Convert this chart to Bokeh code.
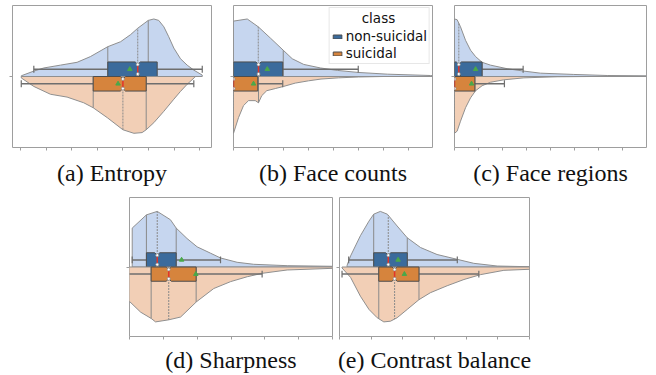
import numpy as np
from bokeh.plotting import figure
from bokeh.models import (FixedTicker, Range1d, Title, Legend, LegendItem,
                          CustomLabelingPolicy)
from bokeh.layouts import row, column
from bokeh.embed import file_html
from bokeh.resources import INLINE

# ---------------- data (x in tick units) ----------------
classes = ["non-suicidal", "suicidal"]
legend_title = "class"
captions = ["(a) Entropy", "(b) Face counts", "(c) Face regions",
            "(d) Sharpness", "(e) Contrast balance"]

# (a) Entropy
ent_ns_x = [0.03, 0.52, 0.91, 1.56, 2.21, 2.73, 3.41, 3.91, 4.30, 4.58, 4.99, 5.21, 5.40, 5.60, 5.79, 5.99, 6.25, 6.51, 6.77, 7.10]
ent_ns_d = [0.01, 0.076, 0.12, 0.16, 0.20, 0.28, 0.42, 0.49, 0.59, 0.68, 0.79, 0.81, 0.79, 0.70, 0.56, 0.40, 0.25, 0.16, 0.09, 0.02]
ent_s_x = [0.03, 0.52, 1.17, 1.82, 2.47, 2.84, 3.39, 4.00, 4.43, 4.75, 4.91, 5.21, 5.60, 5.99, 6.25, 6.51, 6.81]
ent_s_d = [0.02, 0.14, 0.25, 0.29, 0.37, 0.44, 0.58, 0.75, 0.80, 0.79, 0.75, 0.65, 0.49, 0.32, 0.21, 0.11, 0.01]
# box stats: low whisker, q1, median, q3, high whisker, mean
ent_ns_box = [0.52, 3.41, 4.58, 5.34, 7.10, 4.27]
ent_s_box = [0.03, 2.84, 4.00, 4.91, 6.77, 3.81]
# violin inner quartiles
ent_ns_q = [3.41, 4.58, 4.99]
ent_s_q = [2.84, 4.00, 4.91]
ent_ticks = [0, 1, 2, 3, 4, 5, 6, 7]

# (b) Face counts
fc_ns_x = [0.0, 0.55, 0.99, 1.48, 1.99, 2.35, 2.81, 3.48, 4.15, 4.99, 6.15, 7.88, 8.0]
fc_ns_d = [0.78, 0.81, 0.70, 0.54, 0.37, 0.25, 0.17, 0.12, 0.086, 0.057, 0.033, 0.014, 0.01]
fc_s_x = [0.0, 0.2, 0.4, 0.6, 0.87, 1.0, 1.13, 1.33, 1.67, 2.0, 2.47, 3.0, 3.5, 4.2, 5.0, 6.0]
fc_s_d = [0.80, 0.58, 0.41, 0.34, 0.34, 0.37, 0.27, 0.20, 0.17, 0.14, 0.093, 0.061, 0.036, 0.019, 0.007, 0.0]
fc_ns_box = [0.0, 0.0, 1.0, 1.97, 4.99, 1.35]
fc_s_box = [0.0, 0.0, 0.0, 0.97, 1.97, 0.80]
fc_ns_q = [0.0, 0.99, 1.99]
fc_s_q = [0.0, 0.0, 1.0]
fc_ticks = [0, 1, 2, 3, 4, 5, 6, 7]

# (c) Face regions
fr_ns_x = [0.0, 0.11, 0.25, 0.46, 0.67, 0.88, 1.15, 1.5, 2.19, 2.89, 3.58, 4.97, 6.36, 8.0]
fr_ns_d = [0.81, 0.80, 0.70, 0.51, 0.37, 0.28, 0.20, 0.16, 0.11, 0.076, 0.047, 0.029, 0.014, 0.01]
fr_s_x = [0.0, 0.11, 0.25, 0.46, 0.67, 0.88, 1.15, 1.5, 2.05, 2.89, 4.28, 5.67]
fr_s_d = [0.80, 0.77, 0.63, 0.44, 0.30, 0.20, 0.13, 0.081, 0.047, 0.019, 0.004, 0.0]
fr_ns_box = [0.0, 0.0, 0.18, 1.15, 2.86, 0.88]
fr_s_box = [0.0, 0.0, 0.0, 0.85, 2.08, 0.71]
fr_ns_q = [0.0, 0.18, 1.15]
fr_s_q = [0.0, 0.0, 0.85]
fr_ticks = [0, 1, 2, 3, 4, 5, 6, 7]

# (d) Sharpness
sh_ns_x = [0.08, 0.50, 0.82, 1.21, 1.38, 1.70, 2.00, 2.39, 2.69, 3.18, 3.67, 4.66, 6.01]
sh_ns_d = [0.56, 0.75, 0.80, 0.68, 0.56, 0.41, 0.29, 0.20, 0.13, 0.068, 0.039, 0.019, 0.01]
sh_s_x = [-0.15, 0.01, 0.33, 0.64, 0.77, 1.16, 1.51, 1.98, 2.49, 2.99, 3.48, 3.92, 4.66, 6.01]
sh_s_d = [0.45, 0.50, 0.65, 0.74, 0.79, 0.76, 0.72, 0.50, 0.31, 0.21, 0.14, 0.091, 0.043, 0.019]
sh_ns_box = [0.08, 0.50, 0.82, 1.38, 2.69, 1.54]
sh_s_box = [-0.10, 0.64, 1.16, 1.97, 3.92, 1.96]
sh_ns_q = [0.50, 0.82, 1.38]
sh_s_q = [0.64, 1.16, 1.97]
sh_ticks = [0, 1, 2, 3, 4, 5, 6]

# (e) Contrast balance
cb_ns_x = [0.24, 0.35, 0.66, 0.93, 1.08, 1.29, 1.51, 1.82, 2.14, 2.56, 3.08, 3.72, 4.24, 4.98, 6.0]
cb_ns_d = [0.025, 0.16, 0.45, 0.66, 0.76, 0.80, 0.76, 0.59, 0.42, 0.28, 0.18, 0.11, 0.053, 0.014, 0.004]
cb_s_x = [0.08, 0.35, 0.66, 0.93, 1.19, 1.40, 1.61, 1.82, 2.14, 2.51, 2.87, 3.40, 3.93, 4.45, 5.19, 6.0]
cb_s_d = [0.014, 0.15, 0.42, 0.61, 0.73, 0.79, 0.78, 0.73, 0.61, 0.47, 0.37, 0.27, 0.18, 0.11, 0.048, 0.033]
cb_ns_box = [0.29, 1.08, 1.54, 2.14, 3.72, 1.85]
cb_s_box = [0.08, 1.24, 1.74, 2.51, 4.40, 2.05]
cb_ns_q = [1.08, 1.54, 2.14]
cb_s_q = [1.24, 1.74, 2.51]
cb_ticks = [0, 1, 2, 3, 4, 5, 6]

# ---------------- styles ----------------
VIO_FILL = {"ns": "#c6d6ef", "s": "#f2cfb6"}
BOX_FILL = {"ns": "#3b6b9c", "s": "#d6843d"}
EDGE = "#8f8f8f"
BOX_EDGE = "#4d4d4d"
FRAME = "#9e9e9e"
BOX_H = 0.205
CAP = 0.05
FONT_CAP = "'Liberation Serif', 'Times New Roman', serif"

HIDE_LABELS = "for (const i of indices) indices.unset(i); return indices"


def make_fig(xr, ticks, fw, fh, bl, br, bt, bb, caption, standoff):
    p = figure(frame_width=fw, frame_height=fh, min_border_left=bl, min_border_right=br,
               min_border_top=bt, min_border_bottom=bb,
               x_range=Range1d(*xr), y_range=Range1d(-1, 1),
               output_backend="svg", toolbar_location=None)
    p.grid.visible = False
    p.outline_line_color = FRAME
    p.outline_line_width = 1
    for ax, tk in ((p.xaxis[0], ticks), (p.yaxis[0], [0])):
        ax.ticker = FixedTicker(ticks=tk)
        ax.minor_tick_line_color = None
        ax.major_tick_out = 3
        ax.major_tick_in = 0
        ax.major_tick_line_color = FRAME
        ax.axis_line_color = None
        ax.major_label_text_font_size = "0px"
        ax.major_label_standoff = 0
        ax.major_label_policy = CustomLabelingPolicy(code=HIDE_LABELS)
    p.add_layout(Title(text=caption, align="center", text_font=FONT_CAP,
                       text_font_size="24px", text_font_style="normal",
                       text_color="#111111", standoff=standoff), "below")
    p.background_fill_color = "white"
    p.border_fill_color = "white"
    return p


def draw_half(p, xs, ds, box, quart, key, sign, ppu):
    xs = np.asarray(xs, float)
    ds = np.asarray(ds, float)
    vx = np.concatenate([[xs[0]], xs, [xs[-1]]])
    vy = np.concatenate([[0.0], sign * ds, [0.0]])
    p.patch(vx, vy, fill_color=VIO_FILL[key], line_color=EDGE, line_width=1)
    # inner quartile lines
    for i, q in enumerate(quart):
        top = sign * float(np.interp(q, xs, ds))
        p.segment(x0=[q], y0=[0], x1=[q], y1=[top], line_color="#8a8a8a",
                  line_width=1, line_dash="2 1" if i == 1 else "solid")
    lo, q1, med, q3, hi, mean = box
    h = BOX_H * sign
    nw = 2.6 / ppu
    nd = 0.035 * sign
    if med - nw > q1 and med + nw < q3:
        bx = [q1, q1, med - nw, med, med + nw, q3, q3, med + nw, med, med - nw]
        by = [0, h, h, h - nd, h, h, 0, 0, nd, 0]
    else:
        bx = [q1, q1, q3, q3]
        by = [0, h, h, 0]
    wy = h / 2
    if hi > q3:
        p.segment(x0=[q3], y0=[wy], x1=[hi], y1=[wy], line_color="#6e6e6e", line_width=1.5)
        p.segment(x0=[hi], y0=[wy - CAP], x1=[hi], y1=[wy + CAP], line_color="#6e6e6e", line_width=1.2)
    if lo < q1:
        p.segment(x0=[lo], y0=[wy], x1=[q1], y1=[wy], line_color="#6e6e6e", line_width=1.5)
        p.segment(x0=[lo], y0=[wy - CAP], x1=[lo], y1=[wy + CAP], line_color="#6e6e6e", line_width=1.2)
    box_r = p.patch(bx, by, fill_color=BOX_FILL[key], line_color=BOX_EDGE, line_width=1)
    p.segment(x0=[med], y0=[nd], x1=[med], y1=[h - nd], line_color="#e3342a", line_width=1.5)
    p.scatter([med, med], [nd, h - nd], marker="circle", size=3,
              fill_color="white", line_color="#8a8a8a", line_width=0.7)
    p.scatter([mean], [wy], marker="triangle", size=4.5, fill_color="#4aa84a",
              line_color="#4aa84a")
    return box_r


panels = [
    ((-0.3125, 7.461), ent_ticks, 199, 12, 11, (ent_ns_x, ent_ns_d, ent_ns_box, ent_ns_q),
     (ent_s_x, ent_s_d, ent_s_box, ent_s_q)),
    ((0.0, 7.96), fc_ticks, 199, 11, 11, (fc_ns_x, fc_ns_d, fc_ns_box, fc_ns_q),
     (fc_s_x, fc_s_d, fc_s_box, fc_s_q)),
    ((0.0, 8.0), fr_ticks, 192, 11, 10, (fr_ns_x, fr_ns_d, fr_ns_box, fr_ns_q),
     (fr_s_x, fr_s_d, fr_s_box, fr_s_q)),
    ((0.0, 6.0), sh_ticks, 203, 129, 3, (sh_ns_x, sh_ns_d, sh_ns_box, sh_ns_q),
     (sh_s_x, sh_s_d, sh_s_box, sh_s_q)),
    ((0.0, 6.0), cb_ticks, 190, 4, 127, (cb_ns_x, cb_ns_d, cb_ns_box, cb_ns_q),
     (cb_s_x, cb_s_d, cb_s_box, cb_s_q)),
]

figs = []
boxes = []
for i, (xr, ticks, fw, bl, br, ns, s) in enumerate(panels):
    if i < 3:
        fh, bt, bb, so = 142, 5, 43, 15
    else:
        fh, bt, bb, so = 139, 4, 42, 11
    p = make_fig(xr, ticks, fw, fh, bl, br, bt, bb, captions[i], so)
    ppu = fw / (xr[1] - xr[0])
    rb_ns = draw_half(p, *ns, "ns", 1, ppu)
    rb_s = draw_half(p, *s, "s", -1, ppu)
    figs.append(p)
    boxes.append((rb_ns, rb_s))

# legend in (b)
pb = figs[1]
legend = Legend(items=[LegendItem(label=classes[0], renderers=[boxes[1][0]]),
                       LegendItem(label=classes[1], renderers=[boxes[1][1]])],
                title="\u00a0" * 7 + legend_title, location="top_right", margin=2,
                padding=2, spacing=1,
                glyph_width=11, glyph_height=5, label_height=15, label_standoff=3,
                label_text_font="DejaVu Sans", label_text_font_size="13.5px",
                label_text_color="#111111",
                title_text_font="DejaVu Sans", title_text_font_size="13.5px",
                title_text_font_style="normal", title_text_color="#111111",
                title_standoff=2,
                border_line_color="#d0d0d0", border_line_width=1,
                background_fill_color="white", background_fill_alpha=0.85)
pb.add_layout(legend)

layout = column(row(figs[0], figs[1], figs[2], spacing=0),
                row(figs[3], figs[4], spacing=0), spacing=0)

with open("out.html", "w") as f:
    f.write(file_html(layout, INLINE))
